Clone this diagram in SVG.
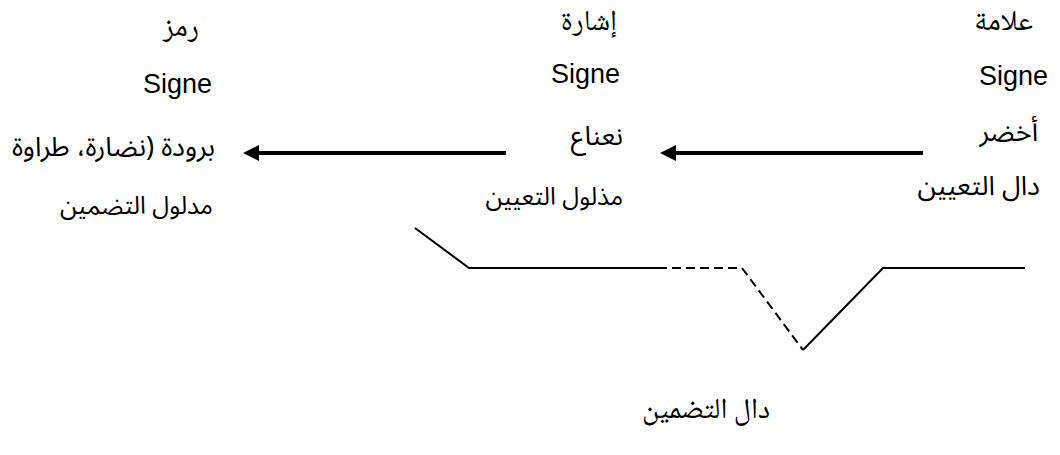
<svg xmlns="http://www.w3.org/2000/svg" width="1060" height="455" viewBox="0 0 1060 455">
  <style>
    .title { font-family: "Noto Naskh Arabic", "Amiri", "DejaVu Sans", serif; font-size: 29px; fill: #000; text-anchor: end; }
    .latin { font-family: "Liberation Sans", Arial, sans-serif; font-size: 27px; fill: #000; text-anchor: end; }
    .ar { font-family: "Noto Sans Arabic", "DejaVu Sans", sans-serif; font-size: 27px; fill: #000; text-anchor: end; }
    .ar.sm { font-size: 24.5px; }
    .arrow { stroke: #000; stroke-width: 4; fill: none; marker-end: url(#head); }
    .solid { stroke: #000; stroke-width: 2; fill: none; }
    .dash { stroke: #000; stroke-width: 2; fill: none; stroke-dasharray: 9 5; }
  </style>
  <defs>
    <marker id="head" markerUnits="userSpaceOnUse" markerWidth="18" markerHeight="18" refX="0" refY="8" orient="auto">
      <path d="M0,0 L16,8 L0,16 Z" fill="#000"/>
    </marker>
  </defs>
  <rect width="1060" height="455" fill="#fff"/>

  <!-- symbol column -->
  <g id="node-symbol">
    <text class="title" x="199" y="36">رمز</text>
    <text class="latin" x="212" y="93">Signe</text>
    <text class="ar" x="215" y="156">برودة (نضارة، طراوة</text>
    <text class="ar sm" x="213" y="214">مدلول التضمين</text>
  </g>

  <!-- index column -->
  <g id="node-index">
    <text class="title" x="617" y="30">إشارة</text>
    <text class="latin" x="620" y="83">Signe</text>
    <text class="ar" x="623" y="145">نعناع</text>
    <text class="ar sm" x="623" y="205">مذلول التعيين</text>
  </g>

  <!-- sign column -->
  <g id="node-sign">
    <text class="title" x="1033" y="30">علامة</text>
    <text class="latin" x="1048" y="85">Signe</text>
    <text class="ar" x="1038" y="141">أخضر</text>
    <text class="ar" x="1040" y="195">دال التعيين</text>
  </g>

  <!-- connotation signifier label -->
  <g id="node-connotation">
    <text class="title" x="770" y="418">دال التضمين</text>
  </g>

  <g id="connectors">
    <line class="arrow" x1="506" y1="153" x2="259" y2="153"/>
    <line class="arrow" x1="923" y1="153" x2="676" y2="153"/>
    <polyline class="solid" points="415,228 469,268 658,268"/>
    <polyline class="dash" points="658,268 742,268 803,350"/>
    <polyline class="solid" points="803,350 883,268 1025,268"/>
  </g>
</svg>
